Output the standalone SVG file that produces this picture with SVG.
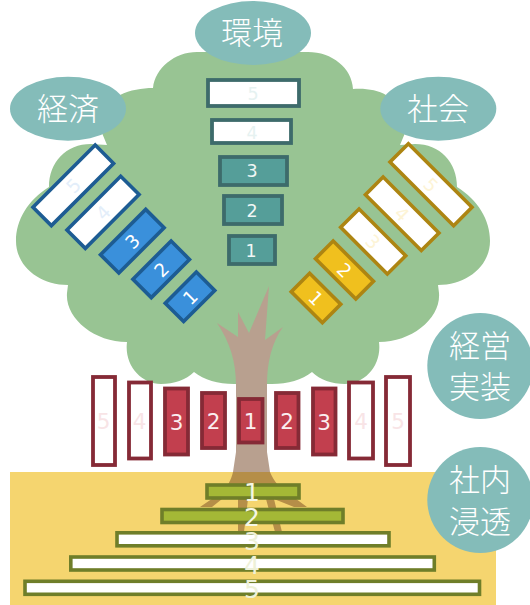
<svg xmlns="http://www.w3.org/2000/svg" width="530" height="605" viewBox="0 0 530 605">
<style>
text{font-family:"DejaVu Sans","Liberation Sans",sans-serif;text-anchor:middle}
.oval{fill:#84bcb9}
.t rect{fill:#559e99;stroke:#3d6b6b;stroke-width:3.8}
.b rect{fill:#3a90db;stroke:#1d5c93;stroke-width:3.6}
.y rect{fill:#f0c01e;stroke:#ad8512;stroke-width:3.6}
.r rect{fill:#c23f4e;stroke:#852a36;stroke-width:3.8}
.g rect{fill:#a4b836;stroke:#6f7e29;stroke-width:3.6}
rect.e{fill:#fff!important}
.t text{font-size:17.500px;fill:#f0f7f6}
.b text,.y text{font-size:18.500px;fill:#fff}
.r text{font-size:21.500px;fill:#fbeef0}
.g text{font-size:25px;fill:#f5f7e4}
.t text.f{fill:#e6f2f1}.b text.f{fill:#e3eefa}.y text.f{fill:#fdf4d6}.r text.f{fill:#f8e4e6}.g text.f{fill:#eef1d8}
text.lab{font-family:"Noto Sans CJK JP","Noto Sans CJK SC",sans-serif;font-size:31px;fill:#fff;font-weight:300}
</style>
<g id="tree">
<path fill="#98c493" d="M153 88C155 68 175 52 197 52L308 52C332 52 352 68 353 89C365 88 378 90 386 95L405 133L400 145L415 144C440 144 457 162 457 187C478 200 490 220 490 241C490 266 467 285 438 285L439 293C441 318 412 342 379 342C382 365 365 384 345 384C332 384 320 380 312 372C302 380 288 384 272 384L234 384C218 384 204 380 194 372C186 380 174 384 161 384C141 384 124 365 127 342C94 342 65 318 67 293L68 285C39 285 16 266 16 241C16 220 28 200 49 187C49 162 66 144 91 144L107 145L102 133L120 95C130 90 142 88 153 88Z"/>
<path fill="#b8a08f" d="M269 286L265 340L283 327C272 342 267 362 267 385L267 452L270 472L233 472L236 452L236 385C236 362 230 342 217 323L238 337L238 312L249 333Z"/>
</g>
<rect id="ground" x="10" y="472" width="486" height="133" fill="#f5d56f"/>
<path id="roots" fill="#b58e48" d="M233 472L270 472C274 482 280 488 288 493L307 507L294 507L274 499L282 532L275 532L266 499L248 499L244 532L238 532L238 499L222 499L212 507L200 507L222 492C228 486 231 480 233 472Z"/>
<g id="n-env" class="t">
<ellipse class="oval" cx="253" cy="33" rx="58" ry="32"/>
<text class="lab" x="252" y="44">環境</text>
<rect class="e" x="208" y="80" width="91" height="26"/><text class="f" x="253" y="100">5</text>
<rect class="e" x="212" y="120" width="79" height="23"/><text class="f" x="252" y="139">4</text>
<rect x="220" y="157" width="67" height="28"/><text x="252" y="177">3</text>
<rect x="224" y="196" width="58" height="28"/><text x="252" y="217">2</text>
<rect x="229" y="236" width="46" height="28"/><text x="251" y="257">1</text>
</g>
<g id="n-eco" class="b">
<ellipse class="oval" cx="68" cy="108.700" rx="58" ry="32"/>
<text class="lab" x="68" y="120">経済</text>
<g transform="translate(73.300 185.300) rotate(-45)"><rect class="e" x="-44" y="-13" width="88" height="26"/><text class="f" y="7">5</text></g>
<g transform="translate(103 212.300) rotate(-45)"><rect class="e" x="-38" y="-13" width="76" height="26"/><text class="f" y="7">4</text></g>
<g transform="translate(132.300 241.200) rotate(-45)"><rect x="-32" y="-13" width="64" height="26"/><text y="7">3</text></g>
<g transform="translate(161.200 269.300) rotate(-45)"><rect x="-27" y="-13" width="54" height="26"/><text y="7">2</text></g>
<g transform="translate(190 296.800) rotate(-45)"><rect x="-22" y="-13" width="44" height="26"/><text y="7">1</text></g>
</g>
<g id="n-soc" class="y">
<ellipse class="oval" cx="438.300" cy="108.700" rx="58" ry="32"/>
<text class="lab" x="438" y="120">社会</text>
<g transform="translate(431 184.700) rotate(45)"><rect class="e" x="-45" y="-13" width="90" height="26"/><text class="f" y="7">5</text></g>
<g transform="translate(402.200 213.800) rotate(45)"><rect class="e" x="-39.500" y="-12.500" width="79" height="25"/><text class="f" y="7">4</text></g>
<g transform="translate(373.200 241.500) rotate(45)"><rect class="e" x="-33" y="-13" width="66" height="26"/><text class="f" y="7">3</text></g>
<g transform="translate(344.500 270) rotate(45)"><rect x="-28.500" y="-12.500" width="57" height="25"/><text y="7">2</text></g>
<g transform="translate(316 298) rotate(45)"><rect x="-22" y="-13" width="44" height="26"/><text y="7">1</text></g>
</g>
<g id="n-mgmt" class="r">
<circle class="oval" cx="480.300" cy="366" r="53"/>
<text class="lab" x="480" y="357">経営</text>
<text class="lab" x="480" y="398">実装</text>
<rect class="e" x="93" y="377" width="22" height="88"/><text class="f" x="103.500" y="429">5</text>
<rect class="e" x="129" y="382.500" width="22" height="76"/><text class="f" x="139.500" y="429">4</text>
<rect x="165" y="388.500" width="23" height="66"/><text x="176.500" y="430">3</text>
<rect x="202" y="393" width="23" height="55"/><text x="213.500" y="429">2</text>
<rect x="239" y="399" width="23.500" height="43.500"/><text x="250.500" y="429">1</text>
<rect x="276" y="393" width="22.500" height="55"/><text x="287" y="429">2</text>
<rect x="313" y="388.500" width="22.500" height="66"/><text x="324" y="430">3</text>
<rect class="e" x="349" y="382.500" width="24" height="76"/><text class="f" x="361" y="429">4</text>
<rect class="e" x="386" y="377" width="24" height="88"/><text class="f" x="398" y="429">5</text>
</g>
<g id="n-culture" class="g">
<circle class="oval" cx="480.300" cy="500" r="53"/>
<text class="lab" x="480" y="491">社内</text>
<text class="lab" x="480" y="533">浸透</text>
<rect x="207" y="485" width="92" height="13"/><text x="252" y="501">1</text>
<rect x="162" y="509.500" width="181" height="13"/><text x="252" y="526">2</text>
<rect class="e" x="117" y="532.800" width="272" height="13"/><text class="f" x="252" y="550">3</text>
<rect class="e" x="70.800" y="557" width="363.500" height="13"/><text class="f" x="252" y="574">4</text>
<rect class="e" x="25" y="581.300" width="454.500" height="13"/><text class="f" x="252" y="598">5</text>
</g>
<g id="connectors"/>
</svg>
